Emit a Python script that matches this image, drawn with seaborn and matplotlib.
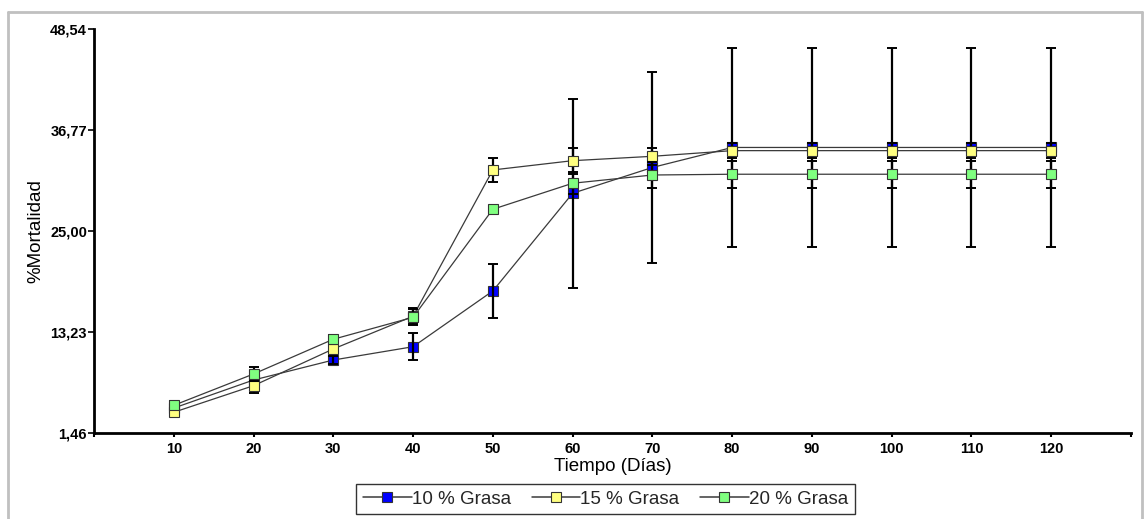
import numpy as np
import pandas as pd
import matplotlib
matplotlib.use("Agg")
import matplotlib.pyplot as plt
from matplotlib.lines import Line2D
import seaborn as sns

# Mortality (%) over time for three fat levels, mean and error
dias = [10, 20, 30, 40, 50, 60, 70, 80, 90, 100, 110, 120]
series = ["10 % Grasa", "15 % Grasa", "20 % Grasa"]

mort_10 = [4.40, 7.67, 10.00, 11.55, 18.05, 29.43, 32.44, 34.77, 34.77, 34.77, 34.77, 34.77]
err_10 = [0.40, 0.50, 0.50, 1.55, 3.15, 11.00, 11.15, 11.55, 11.55, 11.55, 11.55, 11.55]

mort_15 = [3.91, 7.01, 11.29, 15.10, 32.15, 33.23, 33.74, 34.40, 34.40, 34.40, 34.40, 34.40]
err_15 = [0.40, 0.82, 0.50, 0.93, 1.36, 1.50, 1.00, 0.90, 0.90, 0.90, 0.90, 0.90]

mort_20 = [4.72, 8.37, 12.42, 14.98, 27.57, 30.60, 31.56, 31.65, 31.65, 31.65, 31.65, 31.65]
err_20 = [0.47, 0.78, 0.50, 0.93, 0.40, 1.30, 1.55, 1.60, 1.60, 1.60, 1.60, 1.60]

y_ticks = [1.46, 13.23, 25.00, 36.77, 48.54]
y_tick_labels = ["1,46", "13,23", "25,00", "36,77", "48,54"]
x_ticks = list(range(0, 131, 10))
x_tick_labels = ["" if t in (0, 130) else str(t) for t in x_ticks]

face_colors = ["#0000ff", "#ffff80", "#80ff80"]

df = pd.DataFrame({
    "Dias": dias * 3,
    "Mortalidad": mort_10 + mort_15 + mort_20,
    "Error": err_10 + err_15 + err_20,
    "Serie": np.repeat(series, len(dias)),
})

sns.set_theme(style="white")
plt.rcParams["font.family"] = ["Liberation Sans", "DejaVu Sans"]

fig = plt.figure(figsize=(11.46, 5.19), dpi=100)
ax = fig.add_axes([94 / 1146, 1 - 433.3 / 519, (1131 - 94) / 1146, (433.3 - 29.3) / 519])

for i, (name, fc) in enumerate(zip(series, face_colors)):
    sub = df[df["Serie"] == name]
    z_line = 2 + 2 * i
    sns.lineplot(data=sub, x="Dias", y="Mortalidad", ax=ax, color="#3a3a3a",
                 linewidth=0.9, marker="s", markersize=6.6, markerfacecolor=fc,
                 markeredgecolor="#333333", markeredgewidth=0.8,
                 zorder=z_line + (0 if i == 0 else 1), legend=False)
    ax.errorbar(sub["Dias"], sub["Mortalidad"], yerr=sub["Error"], fmt="none",
                ecolor="black", elinewidth=1.6, capsize=3.4, capthick=1.4,
                zorder=z_line + (1 if i == 0 else 0))

ax.set_xlim(0, 130)
ax.set_ylim(1.46, 48.54)
ax.set_yticks(y_ticks)
ax.set_yticklabels(y_tick_labels)
ax.set_xticks(x_ticks)
ax.set_xticklabels(x_tick_labels)
ax.tick_params(axis="y", direction="out", length=4, width=1.2, pad=1,
               labelsize=10.5, left=True, colors="black")
ax.tick_params(axis="x", direction="out", length=3, width=1.5, pad=3,
               labelsize=10.5, bottom=True, colors="black")
for lab in ax.get_xticklabels() + ax.get_yticklabels():
    lab.set_fontweight("bold")

for side in ("top", "right"):
    ax.spines[side].set_visible(False)
for side in ("left", "bottom"):
    ax.spines[side].set_color("black")
    ax.spines[side].set_linewidth(2)

ax.set_xlabel("Tiempo (Días)", fontsize=13.5, labelpad=2, color="black")
ax.set_ylabel("%Mortalidad", fontsize=13.5, labelpad=4, color="black")
ax.grid(False)

handles = [Line2D([0], [0], color="#3a3a3a", linewidth=1.1, marker="s",
                  markersize=7, markerfacecolor=fc, markeredgecolor="#333333",
                  markeredgewidth=0.8)
           for fc in face_colors]
leg = fig.legend(handles, series, loc="center", bbox_to_anchor=(605.5 / 1146, 20 / 519),
                 ncol=3, fontsize=13.5, frameon=True, fancybox=False,
                 handlelength=2.6, handletextpad=0.0, columnspacing=1.1,
                 borderpad=0.35, borderaxespad=0)
leg.get_frame().set_edgecolor("black")
leg.get_frame().set_linewidth(1)

# light frame around the whole chart
W, H = 1146, 519
frame_kw = dict(color="#c0c0c0", linewidth=2, transform=fig.transFigure)
fig.add_artist(Line2D([7.5 / W, 7.5 / W], [0, 1 - 11.5 / H], **frame_kw))
fig.add_artist(Line2D([7.5 / W, 1142 / W], [1 - 11.5 / H, 1 - 11.5 / H], **frame_kw))
fig.add_artist(Line2D([1142 / W, 1142 / W], [0, 1 - 11.5 / H], **frame_kw))

fig.savefig("out.png", dpi=100)
